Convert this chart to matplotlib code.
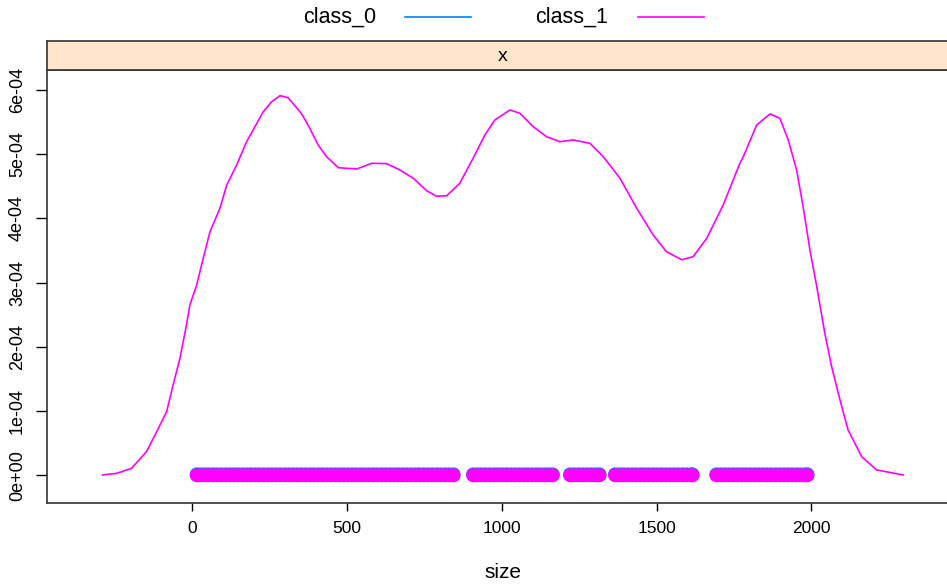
import matplotlib
matplotlib.use("Agg")
import matplotlib.pyplot as plt

plt.rcParams['font.family'] = ['Liberation Sans', 'DejaVu Sans']

# density estimate of size (class_0 lies under class_1)
dens_x = [-287, -242, -194, -146, -113, -81, -60, -38, -17, -6, 16, 37, 59,
          91, 113, 145, 177, 231, 258, 285, 311, 349, 360, 381, 408, 435,
          473, 532, 581, 629, 672, 715, 758, 790, 823, 865, 908, 946, 978,
          1027, 1059, 1102, 1145, 1188, 1231, 1285, 1328, 1382, 1436, 1489,
          1532, 1581, 1618, 1662, 1715, 1769, 1780, 1823, 1866, 1898, 1925,
          1952, 1973, 1995, 2017, 2043, 2065, 2092, 2118, 2162, 2210, 2296]
dens_y = [0.005, 0.031, 0.109, 0.368, 0.679, 0.991, 1.407, 1.822, 2.341,
          2.653, 2.964, 3.380, 3.794, 4.159, 4.522, 4.833, 5.196, 5.664,
          5.819, 5.913, 5.882, 5.664, 5.586, 5.405, 5.145, 4.963, 4.791,
          4.771, 4.860, 4.854, 4.755, 4.626, 4.433, 4.346, 4.355, 4.548,
          4.938, 5.301, 5.534, 5.690, 5.639, 5.430, 5.274, 5.196, 5.223,
          5.171, 4.963, 4.626, 4.159, 3.743, 3.483, 3.358, 3.405, 3.692,
          4.210, 4.860, 4.963, 5.456, 5.628, 5.561, 5.223, 4.755, 4.184,
          3.509, 2.938, 2.212, 1.692, 1.173, 0.706, 0.290, 0.083, 0.005]
dens_y = [v * 1e-4 for v in dens_y]

# observed sizes drawn along the bottom
size_pts = [16, 29, 42, 55, 69, 82, 96, 110, 123, 137, 150, 164, 178, 191,
            205, 218, 232, 246, 259, 273, 286, 300, 314, 327, 341, 354, 368,
            382, 395, 409, 422, 436, 450, 463, 477, 490, 504, 518, 531, 545,
            558, 572, 586, 599, 613, 626, 640, 654, 667, 681, 694, 708, 722,
            735, 749, 762, 776, 790, 803, 817, 831, 845,
            908, 921, 935, 948, 962, 976, 989, 1003, 1016, 1030, 1044, 1057,
            1071, 1084, 1098, 1112, 1125, 1139, 1152, 1165,
            1221, 1235, 1249, 1262, 1276, 1289, 1303, 1316,
            1366, 1380, 1393, 1407, 1421, 1434, 1448, 1461, 1475, 1489, 1502,
            1516, 1529, 1543, 1557, 1570, 1584, 1597, 1611, 1616,
            1693, 1707, 1720, 1734, 1748, 1761, 1775, 1788, 1802, 1816, 1829,
            1843, 1856, 1870, 1884, 1897, 1911, 1924, 1938, 1952, 1965, 1979,
            1987]

classes = ["class_0", "class_1"]
colors = ["#0080FF", "#FF00FF"]
pt_lift = [0.015e-4, 0.0]

xticks = [0, 500, 1000, 1500, 2000]
yticks = [0, 1e-4, 2e-4, 3e-4, 4e-4, 5e-4, 6e-4]
ytick_labels = ["0e+00", "1e-04", "2e-04", "3e-04", "4e-04", "5e-04", "6e-04"]

W, H = 947, 588
fig = plt.figure(figsize=(W / 100, H / 100), dpi=100)

# panel runs past the right edge of the image
px_l, px_r, px_t, px_b = 46.7, 959, 70, 502.7
ax = fig.add_axes([px_l / W, (H - px_b) / H, (px_r - px_l) / W, (px_b - px_t) / H])
strip = fig.add_axes([px_l / W, (H - px_t) / H, (px_r - px_l) / W, 29 / H])

ax.plot(dens_x, dens_y, color=colors[1], lw=1.2, zorder=2)
for i in range(2):
    ax.scatter(size_pts, [pt_lift[i]] * len(size_pts), s=100, color=colors[i],
               edgecolors='none', zorder=3 + i)

ax.set_xlim(-468, 2476)
ax.set_ylim(-0.427e-4, 6.313e-4)
ax.set_xticks(xticks)
ax.set_xticklabels([str(t) for t in xticks])
ax.set_yticks(yticks)
ax.set_yticklabels(ytick_labels, rotation=90, va='center')
ax.tick_params(axis='x', length=6, width=1, pad=7, labelsize=12.5)
ax.tick_params(axis='y', length=8, width=1, pad=7, labelsize=13)
for sp in ax.spines.values():
    sp.set_linewidth(1.2)
    sp.set_color('#333333')

strip.set_facecolor('#FFE5CC')
strip.set_xticks([])
strip.set_yticks([])
for sp in strip.spines.values():
    sp.set_linewidth(1.2)
    sp.set_color('#333333')
strip.text(0.5, 0.45, "x", transform=strip.transAxes, ha='center',
           va='center', fontsize=14)

fig.text(503 / W, (H - 572) / H, "size", ha='center', va='center', fontsize=15)

# legend on top
leg_text_x = [303, 535]
leg_line_x = [(405, 471), (638, 704)]
for i in range(2):
    fig.text(leg_text_x[i] / W, (H - 17) / H, classes[i], ha='left',
             va='center', fontsize=15.5)
    fig.add_artist(plt.Line2D([leg_line_x[i][0] / W, leg_line_x[i][1] / W],
                              [(H - 17) / H, (H - 17) / H], color=colors[i],
                              lw=1.2, transform=fig.transFigure))

fig.savefig("out.png", dpi=100)
